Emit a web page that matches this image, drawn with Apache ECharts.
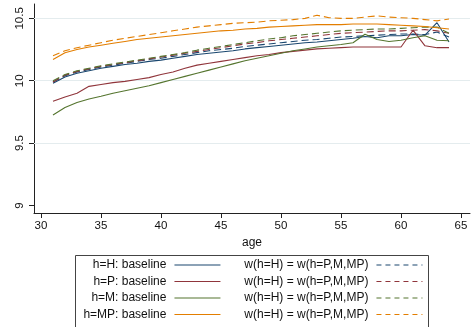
<!DOCTYPE html>
<html>
<head>
<meta charset="utf-8">
<script src="https://cdn.jsdelivr.net/npm/echarts@6/dist/echarts.min.js"></script>
<style>html,body{margin:0;padding:0;background:#fff}#c{width:472px;height:327px}</style>
</head>
<body>
<div id="c"></div>
<script>
const ages = [31,32,33,34,35,36,37,38,39,40,41,42,43,44,45,46,47,48,49,50,51,52,53,54,55,56,57,58,59,60,61,62,63,64];
const xTicks = [30,35,40,45,50,55,60,65];
const yTicks = [9,9.5,10,10.5];
const yGrid = [9.5,10,10.5];

const hBase = [9.98,10.03,10.06,10.08,10.10,10.115,10.13,10.14,10.155,10.165,10.18,10.195,10.21,10.22,10.23,10.24,10.255,10.265,10.275,10.285,10.295,10.305,10.31,10.32,10.33,10.34,10.355,10.345,10.36,10.36,10.37,10.365,10.465,10.31];
const hW = [9.99,10.04,10.07,10.09,10.11,10.125,10.14,10.155,10.17,10.18,10.195,10.21,10.225,10.24,10.25,10.26,10.275,10.285,10.295,10.305,10.315,10.325,10.33,10.34,10.35,10.355,10.36,10.365,10.37,10.375,10.375,10.37,10.39,10.35];
const pBase = [9.835,9.87,9.90,9.955,9.97,9.985,9.995,10.01,10.025,10.05,10.07,10.10,10.125,10.14,10.155,10.17,10.185,10.20,10.21,10.225,10.235,10.245,10.255,10.26,10.265,10.27,10.27,10.27,10.27,10.27,10.405,10.28,10.265,10.265];
const pW = [9.99,10.045,10.075,10.095,10.115,10.13,10.145,10.16,10.175,10.19,10.205,10.22,10.235,10.25,10.265,10.28,10.295,10.305,10.32,10.33,10.34,10.35,10.36,10.37,10.38,10.385,10.39,10.395,10.40,10.40,10.405,10.41,10.40,10.38];
const mBase = [9.725,9.785,9.825,9.853,9.875,9.90,9.92,9.94,9.96,9.985,10.01,10.035,10.06,10.085,10.11,10.135,10.16,10.18,10.20,10.22,10.24,10.255,10.27,10.28,10.29,10.305,10.372,10.33,10.315,10.325,10.345,10.36,10.325,10.32];
const mW = [10.0,10.05,10.08,10.10,10.12,10.135,10.15,10.165,10.18,10.195,10.21,10.225,10.245,10.26,10.275,10.29,10.305,10.32,10.335,10.345,10.36,10.37,10.38,10.39,10.40,10.405,10.41,10.415,10.415,10.42,10.425,10.43,10.43,10.38];
const mpBase = [10.17,10.225,10.25,10.27,10.285,10.30,10.315,10.33,10.34,10.35,10.36,10.37,10.38,10.39,10.40,10.405,10.415,10.42,10.43,10.435,10.44,10.445,10.45,10.45,10.45,10.455,10.455,10.455,10.45,10.445,10.44,10.435,10.425,10.415];
const mpW = [10.20,10.24,10.265,10.285,10.305,10.325,10.34,10.355,10.37,10.385,10.40,10.415,10.43,10.44,10.45,10.46,10.465,10.47,10.48,10.485,10.49,10.50,10.525,10.505,10.50,10.50,10.51,10.52,10.51,10.505,10.50,10.49,10.48,10.495];

const legendBase = ['h=H: baseline','h=P: baseline','h=M: baseline','h=MP: baseline'];
const legendW = 'w(h=H) = w(h=P,M,MP)';

const colors = ['#1a476f','#90353b','#55752f','#e37e00'];
const FONT = 'Liberation Sans, Arial, Helvetica, sans-serif';

const groups = [
  {key:'H', base:hBase, w:hW},
  {key:'P', base:pBase, w:pW},
  {key:'M', base:mBase, w:mW},
  {key:'MP', base:mpBase, w:mpW}
];

const series = [];
const nameMap = {};
groups.forEach((g,i)=>{
  const bn = 'base_'+g.key, wn = 'w_'+g.key;
  nameMap[bn] = legendBase[i];
  nameMap[wn] = legendW;
  series.push({
    name: bn, type:'line', symbol:'none', z: 3,
    data: ages.map((a,k)=>[a,g.base[k]]),
    lineStyle:{color:colors[i], width:1.1, type:'solid'},
    itemStyle:{color:colors[i]},
    markLine: i===0 ? {
      silent:true, symbol:'none', label:{show:false}, animation:false, z:1,
      lineStyle:{color:'#e4ecee', width:1, type:'solid'},
      data: yGrid.map(v=>({yAxis:v}))
    } : undefined
  });
  series.push({
    name: wn, type:'line', symbol:'none', z: 3,
    data: ages.map((a,k)=>[a,g.w[k]]),
    lineStyle:{color:colors[i], width:1.1, type:[7,4]},
    itemStyle:{color:colors[i]}
  });
});

const rowCenters = [266,282.5,299,315.5];
const legends = [];
function mkLegend(name, right, cy, dashed, color){
  return {
    data:[name], orient:'horizontal', align:'right', right:right, top:cy-7,
    padding:0, itemWidth:46, itemHeight:14, selectedMode:false,
    formatter: n=>nameMap[n],
    itemStyle:{opacity:0},
    lineStyle:{width:1.1, color:color, type: dashed ? [5,4] : 'solid'},
    textStyle:{fontFamily:FONT, fontSize:12, color:'#111', padding:[0,3,0,0]}
  };
}
groups.forEach((g,i)=>{
  legends.push(mkLegend('base_'+g.key, 251, rowCenters[i], false, colors[i]));
  legends.push(mkLegend('w_'+g.key, 49, rowCenters[i], true, colors[i]));
});

const chart = echarts.init(document.getElementById('c'), null, {renderer:'canvas'});
chart.setOption({
  animation:false,
  backgroundColor:'#fff',
  grid:{left:34, right:2, top:4, bottom:114, containLabel:false},
  xAxis:{
    type:'value', min:29.417, max:65.75,
    name:'age', nameLocation:'middle', nameGap:18,
    nameTextStyle:{fontFamily:FONT, fontSize:12, color:'#111'},
    axisLine:{show:true, onZero:false, lineStyle:{color:'#222', width:1}},
    axisTick:{show:true, length:5, customValues:xTicks, lineStyle:{color:'#222'}},
    axisLabel:{customValues:xTicks, fontFamily:FONT, fontSize:11.5, color:'#111', margin:7},
    splitLine:{show:false}
  },
  yAxis:{
    type:'value', min:8.94, max:10.615,
    axisLine:{show:true, onZero:false, lineStyle:{color:'#222', width:1}},
    axisTick:{show:true, length:5, customValues:yTicks, lineStyle:{color:'#222'}},
    axisLabel:{customValues:yTicks, rotate:90, fontFamily:FONT, fontSize:11.5, color:'#111', margin:8},
    splitLine:{show:false}
  },
  legend: legends,
  graphic:[{
    type:'rect', z:-1, silent:true,
    shape:{x:75.5, y:255.5, width:353, height:80},
    style:{fill:'#fff', stroke:'#444', lineWidth:1}
  }],
  series: series
});
</script>
</body>
</html>
